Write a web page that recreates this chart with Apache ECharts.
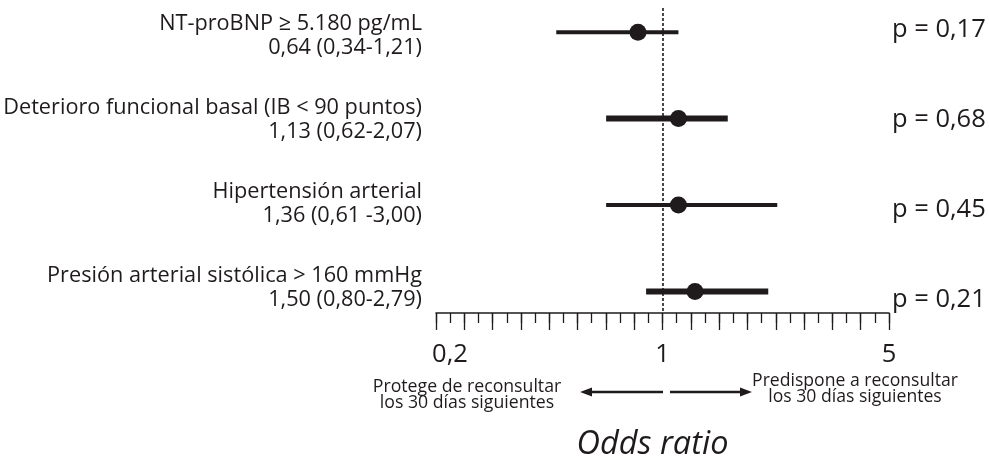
<!DOCTYPE html>
<html><head><meta charset="utf-8">
<script src="https://cdn.jsdelivr.net/npm/echarts@6/dist/echarts.min.js"></script>
<style>html,body{margin:0;padding:0;background:#fff}#c{width:989px;height:458px}</style>
</head><body><div id="c"></div>
<script>
// ---- data ----
const categories = ['NT-proBNP ≥ 5.180 pg/mL', 'Deterioro funcional basal (IB < 90 puntos)', 'Hipertensión arterial', 'Presión arterial sistólica > 160 mmHg'];
const orText = ['0,64 (0,34-1,21)', '1,13 (0,62-2,07)', '1,36 (0,61 -3,00)', '1,50 (0,80-2,79)'];
const pText = ['p = 0,17', 'p = 0,68', 'p = 0,45', 'p = 0,21'];
const orPoint = [0.84, 1.12, 1.12, 1.26];
const ciLow = [0.47, 0.67, 0.67, 0.89];
const ciHigh = [1.12, 1.59, 2.26, 2.12];
const tickValues = [0.2, 1, 5];
const tickLabels = ['0,2', '1', '5'];
const leftNote = ['Protege de reconsultar', 'los 30 días siguientes'];
const rightNote = ['Predispone a reconsultar', 'los 30 días siguientes'];
const axisTitle = 'Odds ratio';

// ---- styles ----
const INK = '#1f1b1c';
const FONT = '"Open Sans", Lato, sans-serif';
const ciWidths = [4, 6, 4, 6];

const chart = echarts.init(document.getElementById('c'), null, {renderer: 'canvas'});
const rows = categories.map((c, i) => i + 1);

const mainGrid = {left: 436, right: 100, top: 8, bottom: 145, containLabel: false, outerBoundsMode: 'none'};
const option = {
  backgroundColor: '#fff',
  animation: false,
  grid: [
    mainGrid,
    Object.assign({}, mainGrid),
    {left: 436, width: 10, top: 35.5, bottom: 170.5, containLabel: false, outerBoundsMode: 'none'},
    {left: 870, width: 19, top: 30, bottom: 158, containLabel: false, outerBoundsMode: 'none'}
  ],
  xAxis: [
    {
      type: 'log', gridIndex: 0, logBase: Math.pow(5, 1 / 8), min: 0.2, max: 5, interval: 1,
      axisLine: {show: true, lineStyle: {color: INK, width: 1.5}},
      axisTick: {show: true, length: 17, lineStyle: {color: INK, width: 1.3}},
      splitLine: {show: false},
      axisLabel: {
        show: true, interval: 0, margin: 29, color: INK, fontFamily: FONT, fontSize: 25.5, lineHeight: 25,
        formatter: function (v) {
          for (let i = 0; i < tickValues.length; i++) {
            if (Math.abs(v - tickValues[i]) < 1e-6 * tickValues[i] + 1e-9) {
              return i === 0 ? '{f|' + tickLabels[i] + '}' : tickLabels[i];
            }
          }
          return '';
        },
        rich: {f: {fontFamily: FONT, fontSize: 25.5, color: INK, padding: [0, 0, 0, 28], lineHeight: 25}}
      },
      name: axisTitle, nameLocation: 'middle', nameGap: 115,
      nameTextStyle: {fontFamily: FONT, fontStyle: 'italic', fontSize: 32.5, color: INK, padding: [0, 20, 0, 0]}
    },
    {
      type: 'log', gridIndex: 1, logBase: Math.pow(5, 1 / 16), min: 0.2, max: 5, interval: 1,
      axisLine: {show: false},
      axisTick: {show: true, length: 10, lineStyle: {color: INK, width: 1.3}},
      axisLabel: {show: false}, splitLine: {show: false}
    },
    {type: 'value', gridIndex: 2, show: false},
    {type: 'value', gridIndex: 3, show: false}
  ],
  yAxis: [
    {type: 'value', gridIndex: 0, show: false, inverse: true, min: 0.72, max: 4.25},
    {type: 'value', gridIndex: 1, show: false, min: 0, max: 1},
    {
      type: 'category', gridIndex: 2, data: categories, inverse: true, boundaryGap: false,
      axisLine: {show: false}, axisTick: {show: false}, splitLine: {show: false},
      axisLabel: {
        show: true, interval: 0, margin: 14, align: 'right', color: INK, fontFamily: FONT, fontSize: 21.7, lineHeight: 24,
        formatter: function (v, i) { return v + '\n' + orText[i]; }
      }
    },
    {
      type: 'category', gridIndex: 3, data: pText, inverse: true, boundaryGap: false, position: 'right',
      axisLine: {show: false}, axisTick: {show: false}, splitLine: {show: false},
      axisLabel: {show: true, interval: 0, margin: 3, align: 'left', color: INK, fontFamily: FONT, fontSize: 25.5}
    }
  ],
  series: [
    {
      type: 'custom', xAxisIndex: 0, yAxisIndex: 0,
      encode: {x: [0, 1], y: 2},
      data: rows.map((r, i) => [ciLow[i], ciHigh[i], r]),
      renderItem: function (params, api) {
        const y = api.value(2);
        const p1 = api.coord([api.value(0), y]);
        const p2 = api.coord([api.value(1), y]);
        return {type: 'line', shape: {x1: p1[0], y1: p1[1], x2: p2[0], y2: p2[1]},
          style: {stroke: INK, lineWidth: ciWidths[params.dataIndex], lineCap: 'butt'}};
      },
      z: 3
    },
    {
      type: 'scatter', xAxisIndex: 0, yAxisIndex: 0,
      data: rows.map((r, i) => [orPoint[i], r]),
      symbol: 'circle', symbolSize: 17, itemStyle: {color: INK, opacity: 1},
      z: 4,
      markLine: {
        silent: true, symbol: 'none', label: {show: false},
        lineStyle: {color: INK, type: [3, 2], width: 1.6, opacity: 1},
        data: [{xAxis: 1}]
      }
    }
  ],
  graphic: [
    {type: 'line', shape: {x1: 663, y1: 392, x2: 589, y2: 392}, style: {stroke: INK, lineWidth: 2.6}},
    {type: 'polygon', shape: {points: [[580, 392], [592, 387.5], [592, 396.5]]}, style: {fill: INK}},
    {type: 'line', shape: {x1: 670, y1: 392, x2: 743, y2: 392}, style: {stroke: INK, lineWidth: 2.6}},
    {type: 'polygon', shape: {points: [[752, 392], [740, 387.5], [740, 396.5]]}, style: {fill: INK}},
    {type: 'text', x: 467, y: 395, style: {text: leftNote.join('\n'), align: 'center', verticalAlign: 'middle',
      fontFamily: FONT, fontSize: 17.7, lineHeight: 16.5, fill: INK}},
    {type: 'text', x: 855, y: 389, style: {text: rightNote.join('\n'), align: 'center', verticalAlign: 'middle',
      fontFamily: FONT, fontSize: 17.6, lineHeight: 16.5, fill: INK}}
  ]
};
chart.setOption(option);
</script>
</body></html>
